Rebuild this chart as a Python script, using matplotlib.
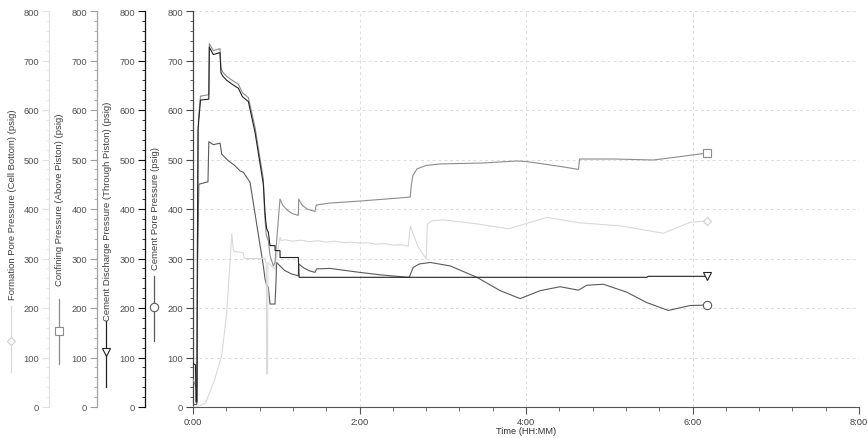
import matplotlib
matplotlib.use('Agg')
import matplotlib.pyplot as plt
from matplotlib.lines import Line2D
from matplotlib.ticker import MultipleLocator, FuncFormatter

plt.rcParams['font.family'] = ['Liberation Sans', 'DejaVu Sans']
plt.rcParams['font.size'] = 6.5

# time in hours, pressure in psig
t_formation = [0.0, 0.05, 0.15, 0.26, 0.345, 0.405, 0.445, 0.465, 0.485, 0.5, 0.6, 0.617,
               0.865, 0.88, 0.885, 0.895, 0.9, 0.985, 1.0, 1.045, 1.06, 1.1, 1.2, 1.3, 1.4,
               1.5, 1.6, 1.7, 1.8, 1.9, 2.0, 2.1, 2.2, 2.3, 2.4, 2.5, 2.585, 2.61, 2.7, 2.8,
               2.815, 2.87, 3.01, 3.41, 3.79, 4.25, 4.65, 5.13, 5.65, 5.97, 6.17]
p_formation = [0, 0, 8, 55, 104, 190, 292, 350, 318, 314, 312, 300,
               300, 290, 67, 67, 292, 278, 300, 343, 336, 338, 335, 337, 334,
               336, 333, 335, 332, 333, 331, 332, 329, 330, 327, 328, 325, 365, 325, 299,
               370, 376, 378, 370, 360, 383, 372, 366, 351, 373, 376]

t_confining = [0.0, 0.04, 0.05, 0.055, 0.065, 0.09, 0.19, 0.196, 0.244, 0.324, 0.336,
               0.36, 0.405, 0.47, 0.545, 0.593, 0.665, 0.745, 0.845, 0.86, 0.88, 0.905,
               0.925, 0.965, 0.985, 1.005, 1.045, 1.08, 1.13, 1.19, 1.265, 1.27, 1.31,
               1.37, 1.465, 1.48, 1.645, 2.0, 2.61, 2.62, 2.64, 2.69, 2.8, 2.97, 3.49,
               3.89, 4.0, 4.41, 4.63, 4.645, 5.05, 5.53, 5.77, 6.17]
p_confining = [55, 40, 40, 300, 580, 628, 631, 734, 720, 724, 684,
               676, 668, 660, 652, 635, 625, 565, 460, 390, 347, 336,
               306, 285, 292, 336, 420, 407, 398, 391, 387, 420, 408,
               400, 395, 408, 412, 416, 424, 445, 467, 481, 488, 491, 493,
               497, 496, 486, 480, 501, 501, 499, 504, 513]

t_discharge = [0.0, 0.03, 0.036, 0.048, 0.052, 0.06, 0.09, 0.19, 0.196, 0.244, 0.324,
               0.336, 0.36, 0.405, 0.47, 0.545, 0.593, 0.665, 0.745, 0.845, 0.865, 0.875,
               0.885, 0.905, 0.925, 0.985, 0.986, 1.045, 1.046, 1.265, 1.275, 5.45, 5.47, 6.17]
p_discharge = [88, 85, 10, 10, 300, 560, 620, 622, 727, 712, 716,
               675, 668, 660, 652, 644, 627, 617, 555, 450, 393, 374,
               360, 353, 326, 326, 316, 316, 302, 302, 262, 262, 264, 264]

t_pore = [0.0, 0.045, 0.055, 0.07, 0.18, 0.19, 0.244, 0.325, 0.345, 0.42, 0.5, 0.565,
          0.605, 0.685, 0.845, 0.865, 0.88, 0.905, 0.925, 0.985, 0.995, 1.005, 1.045,
          1.1, 1.18, 1.265, 1.27, 1.33, 1.4, 1.465, 1.485, 1.645, 2.0, 2.25, 2.585, 2.6,
          2.645, 2.72, 2.85, 3.09, 3.41, 3.69, 3.93, 4.17, 4.41, 4.63, 4.73, 4.93, 5.21,
          5.45, 5.71, 5.97, 6.17]
p_pore = [5, 5, 300, 450, 455, 536, 530, 533, 511, 498, 488, 477,
          474, 454, 285, 259, 248, 242, 208, 208, 245, 292, 285,
          276, 269, 265, 289, 281, 275, 272, 279, 280, 272, 267, 262, 263,
          282, 289, 292, 285, 262, 235, 219, 235, 243, 236, 246, 248, 232,
          211, 195, 205, 206]

labels = ['Formation Pore Pressure (Cell Bottom) (psig)',
          'Confining Pressure (Above Piston) (psig)',
          'Cement Discharge Pressure (Through Piston) (psig)',
          'Cement Pore Pressure (psig)']
series = [(t_formation, p_formation), (t_confining, p_confining),
          (t_discharge, p_discharge), (t_pore, p_pore)]
colors = ['#d9d9d9', '#8c8c8c', '#222222', '#5a5a5a']
spine_colors = ['#e0e0e0', '#a0a0a0', '#111111', '#444444']
markers = ['D', 's', 'v', 'o']
msizes = [4.5, 6, 6, 6]
offsets = [-0.2162, -0.1441, -0.0721, 0.0]

W, H = 868, 439
fig = plt.figure(figsize=(W / 100, H / 100), dpi=100)
ax = fig.add_axes([193 / W, 31 / H, 666 / W, 396 / H])

axes = []
for i in range(4):
    if offsets[i] == 0.0:
        a = ax
    else:
        a = ax.twinx()
        a.spines['left'].set_visible(True)
        a.spines['left'].set_position(('axes', offsets[i]))
        a.yaxis.set_ticks_position('left')
    axes.append(a)

for i, a in enumerate(axes):
    for s in ['top', 'right']:
        a.spines[s].set_visible(False)
    if a is not ax:
        a.spines['bottom'].set_visible(False)
    a.spines['left'].set_color(spine_colors[i])
    a.spines['left'].set_linewidth(0.9)
    a.set_ylim(0, 800)
    a.yaxis.set_major_locator(MultipleLocator(100))
    a.yaxis.set_minor_locator(MultipleLocator(20))
    a.tick_params(axis='y', which='major', length=5, width=0.8, color=spine_colors[i],
                  labelcolor='#505050', labelsize=6.7, pad=2)
    a.tick_params(axis='y', which='minor', length=2.5, width=0.6, color=spine_colors[i])
    t, p = series[i]
    a.plot(t, p, color=colors[i], lw=0.8, marker=markers[i], markevery=[len(t) - 1],
           ms=msizes[i], mfc='white', mec=colors[i] if i != 0 else '#cfcfcf', mew=0.8,
           zorder=3)

ax.set_xlim(0, 8)
ax.xaxis.set_major_locator(MultipleLocator(2))
ax.xaxis.set_minor_locator(MultipleLocator(0.4))
ax.xaxis.set_major_formatter(FuncFormatter(lambda v, pos: f"{int(v)}:{int(round((v % 1) * 60)):02d}"))
ax.spines['bottom'].set_color('#555555')
ax.tick_params(axis='x', which='major', length=5, width=0.8, color='#555555',
               labelcolor='#404040', labelsize=6.7, pad=2)
ax.tick_params(axis='x', which='minor', length=3, width=0.6, color='#555555')
ax.set_xlabel('Time (HH:MM)', fontsize=6.7, color='#303030', labelpad=0)
ax.grid(True, which='major', linestyle=(0, (3, 3)), color='#dcdcdc', linewidth=0.7)
ax.set_axisbelow(True)

# vertical axis titles with their line/marker samples
text_pos = [(13, 205), (60, 200), (108, 211), (155, 208)]
glyph_pos = [(11, 307, 373, 342), (59, 300, 365, 332), (106, 322, 388, 353), (154, 277, 342, 308)]
for i in range(4):
    tx, ty = text_pos[i]
    fig.text(tx / W, 1 - ty / H, labels[i], rotation=90, ha='center', va='center',
             fontsize=6.8, color='#404040')
    gx, gy0, gy1, gm = glyph_pos[i]
    fig.add_artist(Line2D([gx / W, gx / W], [1 - gy0 / H, 1 - gy1 / H],
                          transform=fig.transFigure, color=colors[i], lw=0.9))
    fig.add_artist(Line2D([gx / W], [1 - gm / H], transform=fig.transFigure,
                          marker=markers[i], ms=msizes[i], mfc='white',
                          mec=colors[i] if i != 0 else '#cfcfcf', mew=0.8, lw=0))

fig.savefig('out.png', dpi=100)
